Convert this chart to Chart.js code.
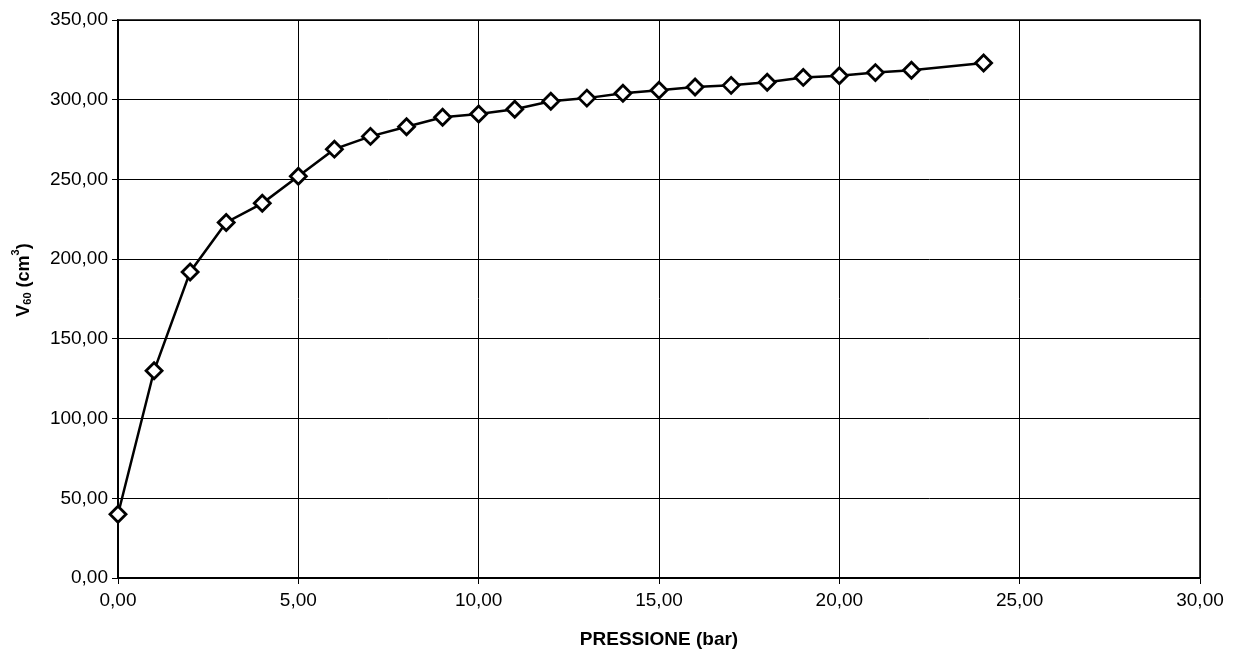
<!DOCTYPE html>
<html>
<head>
<meta charset="utf-8">
<script src="https://cdn.jsdelivr.net/npm/chart.js@4/dist/chart.umd.min.js"></script>
<style>
  html, body { margin: 0; padding: 0; background: #fff; }
  #wrap { width: 1239px; height: 655px; }
</style>
</head>
<body>
<div id="wrap"><canvas id="chart" width="1239" height="655"></canvas></div>
<script>
// Pressione (bar) vs V60 (cm3)
const pressione = [0, 1, 2, 3, 4, 5, 6, 7, 8, 9, 10, 11, 12, 13, 14, 15, 16, 17, 18, 19, 20, 21, 22, 24];
const volume60 = [40, 130, 192, 223, 235, 252, 269, 277, 283, 289, 291, 294, 299, 301, 304, 306, 308, 309, 311, 314, 315, 317, 318.5, 323];

const X_TICKS = [0, 5, 10, 15, 20, 25, 30];
const Y_TICKS = [0, 50, 100, 150, 200, 250, 300, 350];

const fmt = v => Number(v).toFixed(2).replace('.', ',');

const points = pressione.map((p, i) => ({ x: p, y: volume60[i] }));

const FONT = 'Arial, "Liberation Sans", sans-serif';

// y title with real subscript / superscript, drawn rotated
const yTitle = {
    id: 'yTitle',
    afterDraw(chart) {
        const { ctx } = chart;
        const parts = [
            { t: 'V', size: 18, dy: 0 },
            { t: '60', size: 11, dy: 4 },
            { t: ' (cm', size: 18, dy: 0 },
            { t: '3', size: 11, dy: -8 },
            { t: ')', size: 18, dy: 0 }
        ];
        ctx.save();
        ctx.fillStyle = '#000';
        ctx.textBaseline = 'middle';
        let total = 0;
        parts.forEach(p => {
            ctx.font = `bold ${p.size}px ${FONT}`;
            p.w = ctx.measureText(p.t).width;
            total += p.w;
        });
        ctx.translate(24, 280);
        ctx.rotate(-Math.PI / 2);
        let x = -total / 2;
        parts.forEach(p => {
            ctx.font = `bold ${p.size}px ${FONT}`;
            ctx.fillText(p.t, x, p.dy);
            x += p.w;
        });
        ctx.restore();
    }
};

const frame = {
    id: 'frame',
    beforeDatasetsDraw(chart) {
        const { ctx, chartArea: a } = chart;
        ctx.save();
        ctx.strokeStyle = '#000';
        ctx.lineWidth = 1.5;
        ctx.strokeRect(a.left, a.top, a.right - a.left, a.bottom - a.top);
        ctx.restore();
    }
};

new Chart(document.getElementById('chart'), {
    type: 'line',
    data: {
        datasets: [{
            data: points,
            borderColor: '#000',
            borderWidth: 2.5,
            backgroundColor: '#fff',
            pointStyle: 'rectRot',
            pointRadius: 8,
            pointBorderWidth: 2.8,
            pointBackgroundColor: '#fff',
            pointBorderColor: '#000',
            tension: 0,
            clip: false
        }]
    },
    options: {
        responsive: false,
        animation: false,
        layout: { padding: { top: 20, right: 39, left: 0, bottom: 0 } },
        plugins: {
            legend: { display: false },
            tooltip: { enabled: false }
        },
        scales: {
            x: {
                type: 'linear',
                min: 0,
                max: 30,
                afterBuildTicks(scale) {
                    scale.ticks = X_TICKS.map(v => ({ value: v }));
                },
                afterFit(scale) { scale.height = 77; },
                border: { color: '#000', width: 1.5 },
                grid: { color: '#000', lineWidth: 1, tickLength: 6, drawTicks: true },
                ticks: {
                    color: '#000',
                    font: { family: FONT, size: 19 },
                    padding: 5,
                    maxRotation: 0,
                    callback: v => fmt(v)
                },
                title: {
                    display: true,
                    text: 'PRESSIONE (bar)',
                    color: '#000',
                    font: { family: FONT, size: 19, weight: 'bold' },
                    padding: { top: 4 }
                }
            },
            y: {
                type: 'linear',
                min: 0,
                max: 350,
                afterBuildTicks(scale) {
                    scale.ticks = Y_TICKS.map(v => ({ value: v }));
                },
                afterFit(scale) { scale.width = 118; },
                border: { color: '#000', width: 1.5 },
                grid: { color: '#000', lineWidth: 1, tickLength: 6, drawTicks: true },
                ticks: {
                    color: '#000',
                    font: { family: FONT, size: 19 },
                    padding: 4,
                    callback: v => fmt(v)
                }
            }
        }
    },
    plugins: [frame, yTitle]
});
</script>
</body>
</html>
